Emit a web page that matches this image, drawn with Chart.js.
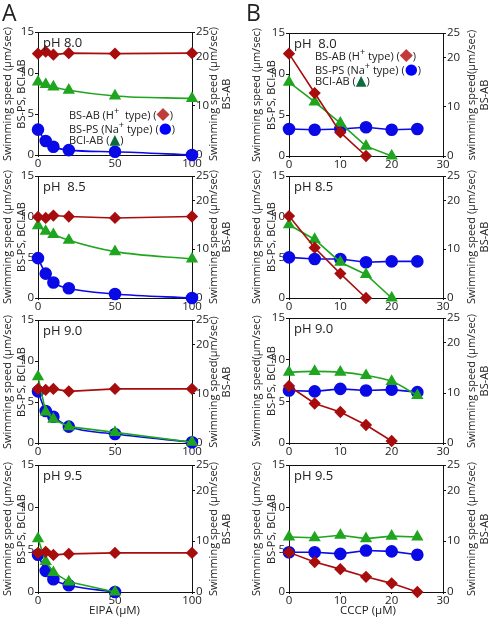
<!DOCTYPE html>
<html>
<head>
<meta charset="utf-8">
<script src="https://cdn.jsdelivr.net/npm/chart.js@4.4.0/dist/chart.umd.min.js"></script>
<style>
body { margin: 0; background: #fff; font-family: "Open Sans", sans-serif; }
#fig { position: relative; width: 488px; height: 618px; overflow: hidden; }
#fig canvas { position: absolute; }
.t { position: absolute; white-space: nowrap; color: #222; line-height: 1; }
.v { position: absolute; white-space: nowrap; font-size: 11px; color: #222; line-height: 1;
     transform: translate(-50%, -50%) rotate(-90deg); }
.leg { height: 12px; }
.leg span { display: inline-block; line-height: 10px; height: 10px; vertical-align: 0; font-family: "DejaVu Sans"; }
</style>
</head>
<body>
<div id="fig"></div>
<script>
// doses (x values)
const eipaDose = [0, 5, 10, 20, 50, 100];
const cccpDose = [0, 5, 10, 15, 20, 25];

// A: EIPA  (AB on right axis, PS / Cl on left axis)
const eipaAB_80 = [20.6, 21.0, 20.4, 20.7, 20.6, 20.7];
const eipaPS_80 = [3.1, 1.7, 1.0, 0.6, 0.4, 0.0];
const eipaCl_80 = [8.9, 8.6, 8.3, 7.9, 7.2, 6.9];

const eipaAB_85 = [16.6, 16.4, 16.9, 16.7, 16.4, 16.7];
const eipaPS_85 = [4.9, 3.0, 1.9, 1.2, 0.5, 0.0];
const eipaCl_85 = [8.9, 8.2, 7.8, 7.1, 5.7, 4.8];

const eipaAB_90 = [11.0, 10.8, 11.0, 10.5, 11.0, 11.0];
const eipaPS_90 = [6.3, 3.9, 3.2, 2.0, 1.1, 0.1];
const eipaCl_90 = [8.1, 3.8, 2.9, 2.0, 1.3, 0.1];

const eipaAB_95 = [7.7, 7.9, 7.3, 7.5, 7.7, 7.7];
const eipaPS_95 = [4.4, 2.5, 1.5, 0.8, 0.0];
const eipaCl_95 = [6.3, 3.6, 2.3, 1.2, 0.0];

// B: CCCP
const cccpAB_80 = [20.8, 12.8, 4.8, 0.0];
const cccpPS_80 = [3.3, 3.2, 3.3, 3.5, 3.2, 3.3];
const cccpCl_80 = [9.0, 6.6, 4.0, 1.2, 0.0];

const cccpAB_85 = [16.8, 10.3, 5.0, 0.0];
const cccpPS_85 = [5.0, 4.8, 4.8, 4.4, 4.5, 4.5];
const cccpCl_85 = [9.0, 7.2, 4.4, 2.9, 0.0];

const cccpAB_90 = [11.4, 7.9, 6.2, 3.6, 0.4];
const cccpPS_90 = [6.3, 6.2, 6.5, 6.3, 6.4, 6.1];
const cccpCl_90 = [8.5, 8.6, 8.5, 8.1, 7.4, 5.7];

const cccpAB_95 = [7.8, 5.9, 4.5, 3.0, 1.7, 0.0];
const cccpPS_95 = [4.7, 4.7, 4.5, 4.9, 4.8, 4.4];
const cccpCl_95 = [6.5, 6.4, 6.7, 6.3, 6.6, 6.5];

const leftTicks = [0, 5, 10, 15];
const rightTicks = [0, 10, 20, 25];

const RED = '#a80d0d', GREEN = '#1fa51f', BLUE = '#0a0ae6';
const AX_L = 40, AX_R = 52, AX_B = 24, PAD_T = 8;
const fig = document.getElementById('fig');

function pts(dose, vals) {
    return vals.map((v, i) => ({ x: dose[i], y: v }));
}

// plot box drawn under the markers
const frame = {
    id: 'frame',
    beforeDatasetsDraw(chart) {
        const a = chart.chartArea, ctx = chart.ctx;
        ctx.save();
        ctx.strokeStyle = '#111';
        ctx.lineWidth = 1;
        ctx.strokeRect(a.left + 0.5, a.top + 0.5, a.right - a.left, a.bottom - a.top);
        ctx.restore();
    }
};

function addText(txt, x, y, size, cls) {
    const d = document.createElement('div');
    d.className = 't' + (cls ? ' ' + cls : '');
    d.innerHTML = txt;
    d.style.left = x + 'px';
    d.style.top = y + 'px';
    d.style.fontSize = size + 'px';
    fig.appendChild(d);
}

function addVText(txt, cx, cy) {
    const d = document.createElement('div');
    d.className = 'v';
    d.textContent = txt;
    d.style.left = cx + 'px';
    d.style.top = cy + 'px';
    fig.appendChild(d);
}

function makePanel(p) {
    const w = p.right - p.left, h = p.bottom - p.top;
    const c = document.createElement('canvas');
    c.width = w + AX_L + AX_R;
    c.height = h + PAD_T + AX_B;
    c.style.left = (p.left - AX_L) + 'px';
    c.style.top = (p.top - PAD_T) + 'px';
    fig.appendChild(c);

    const tickFont = { family: 'Open Sans', size: 11.5 };
    const smooth = p.smooth || {};
    const ds = (label, data, axis, color, style, r) => ({
        label: label,
        data: data,
        yAxisID: axis,
        borderColor: color,
        backgroundColor: color,
        pointBackgroundColor: color,
        pointBorderColor: color,
        pointStyle: style,
        pointRadius: r,
        borderWidth: 1.6,
        cubicInterpolationMode: smooth[label] ? 'monotone' : 'default',
        tension: 0,
        clip: false
    });

    new Chart(c, {
        type: 'line',
        data: {
            datasets: [
                ds('AB', pts(p.dose, p.ab), 'yR', RED, 'rectRot', 5),
                ds('Cl', pts(p.dose, p.cl), 'yL', GREEN, 'triangle', 5.5),
                ds('PS', pts(p.dose, p.ps), 'yL', BLUE, 'circle', 5.5)
            ]
        },
        options: {
            responsive: false,
            animation: false,
            layout: { padding: { top: PAD_T, left: 0, right: 0, bottom: 0 } },
            plugins: { legend: { display: false }, tooltip: { enabled: false } },
            scales: {
                x: {
                    type: 'linear', min: 0, max: p.xMax,
                    ticks: { stepSize: p.xStep, font: tickFont, color: '#222', padding: 0, maxRotation: 0 },
                    grid: { drawOnChartArea: false, tickLength: 2, color: '#111' },
                    border: { display: false },
                    afterFit: s => { s.height = AX_B; }
                },
                yL: {
                    position: 'left', min: 0, max: 15,
                    afterBuildTicks: s => { s.ticks = leftTicks.map(v => ({ value: v })); },
                    ticks: { font: tickFont, color: '#222', padding: 1 },
                    grid: { drawOnChartArea: false, tickLength: 3, color: '#111' },
                    border: { display: false },
                    afterFit: s => { s.width = AX_L; }
                },
                yR: {
                    position: 'right', min: 0, max: 25,
                    afterBuildTicks: s => { s.ticks = rightTicks.map(v => ({ value: v })); },
                    ticks: { font: tickFont, color: '#222', padding: 1 },
                    grid: { drawOnChartArea: false, tickLength: 3, color: '#111' },
                    border: { display: false },
                    afterFit: s => { s.width = AX_R; }
                }
            }
        },
        plugins: [frame]
    });

    // axis titles
    const cy = (p.top + p.bottom) / 2;
    addVText(p.lt || 'Swimming speed (µm/sec)', p.left + p.lo[0], cy);
    addVText(p.lt2 || 'BS-PS, BCI-AB', p.left + p.lo[1], cy);
    addVText(p.rt || 'Swimming speed (µm/sec)', p.right + p.ro[0], cy);
    addVText('BS-AB', p.right + p.ro[1], cy);
    addText(p.ph, p.left + 5, p.top + 4, 13);
}

const A = { left: 38, right: 192, dose: eipaDose, xMax: 100, xStep: 50, lo: [-32, -18], ro: [20, 33] };
const B = { left: 289, right: 443, dose: cccpDose, xMax: 30, xStep: 10, lo: [-34, -19], ro: [27, 40] };

makePanel(Object.assign({}, A, { top: 32, bottom: 155, ab: eipaAB_80, ps: eipaPS_80, cl: eipaCl_80,
    ph: 'pH 8.0', lt2: 'BS-PS, BCl-AB', smooth: { Cl: 1, PS: 1 } }));
makePanel(Object.assign({}, A, { top: 176, bottom: 298, ab: eipaAB_85, ps: eipaPS_85, cl: eipaCl_85,
    ph: 'pH&nbsp; 8.5', smooth: { Cl: 1, PS: 1 } }));
makePanel(Object.assign({}, A, { top: 320, bottom: 443, ab: eipaAB_90, ps: eipaPS_90, cl: eipaCl_90,
    ph: 'pH 9.0', rt: 'Swimming speed(µm/sec)', smooth: { PS: 1 } }));
makePanel(Object.assign({}, A, { top: 465, bottom: 592, ab: eipaAB_95, ps: eipaPS_95, cl: eipaCl_95,
    ph: 'pH 9.5', smooth: { PS: 1 } }));

makePanel(Object.assign({}, B, { top: 33, bottom: 156, ab: cccpAB_80, ps: cccpPS_80, cl: cccpCl_80,
    ph: 'pH&nbsp; 8.0', rt: 'swimming speed(µm/sec)' }));
makePanel(Object.assign({}, B, { top: 176, bottom: 298, ab: cccpAB_85, ps: cccpPS_85, cl: cccpCl_85,
    ph: 'pH 8.5' }));
makePanel(Object.assign({}, B, { top: 318, bottom: 443, ab: cccpAB_90, ps: cccpPS_90, cl: cccpCl_90,
    ph: 'pH 9.0', lt: 'Swimming speed(µm/sec)', smooth: { Cl: 1 } }));
makePanel(Object.assign({}, B, { top: 465, bottom: 592, ab: cccpAB_95, ps: cccpPS_95, cl: cccpCl_95,
    ph: 'pH 9.5' }));

// panel letters and x titles
addText('A', 2, 1, 23);
addText('B', 246, 1, 23);
addText('EIPA (µM)', 89, 604, 11.5);
addText('CCCP (µM)', 340, 604, 11.5);

// in-plot legends
const legA = [
    'BS-AB (H<sup>+</sup>&nbsp; type) (<span style="color:#c23b3b;font-size:17px">◆</span>)',
    'BS-PS (Na<sup>+</sup> type) (<span style="color:#0000ff;font-size:15px">●</span>)',
    'BCl-AB (<span style="color:#0b6b3a;font-size:14px">▲</span>)'
];
const legB = [
    'BS-AB (H<sup>+</sup> type) (<span style="color:#c23b3b;font-size:17px">◆</span>)',
    'BS-PS (Na<sup>+</sup> type) (<span style="color:#0000ff;font-size:15px">●</span>)',
    'BCI-AB (<span style="color:#0b6b3a;font-size:14px">▲</span>)'
];
legA.forEach((s, i) => addText(s, 69, 106 + i * 14, 11, 'leg'));
legB.forEach((s, i) => addText(s, 315, 47 + i * 14, 11, 'leg'));
</script>
</body>
</html>
